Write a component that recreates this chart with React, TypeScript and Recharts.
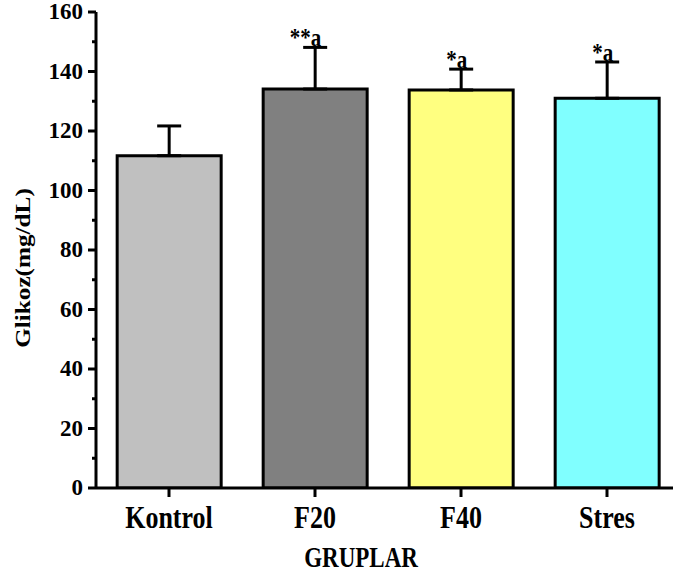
import { BarChart, Bar, XAxis, YAxis, Cell, ErrorBar, LabelList, Label } from 'recharts'

const groups = ['Kontrol', 'F20', 'F40', 'Stres']
const glucose = [111.7, 134.1, 133.8, 131.0]
const stdErr = [10.0, 14.0, 7.0, 12.2]
const marks = ['', '**a', '*a', '*a']
const barColors = ['#c0c0c0', '#808080', '#ffff80', '#80ffff']
const yTicks = [0, 10, 20, 30, 40, 50, 60, 70, 80, 90, 100, 110, 120, 130, 140, 150, 160]

const FONT = '"Liberation Serif", "Times New Roman", serif'

const data = groups.map((name, i) => ({
  name,
  value: glucose[i],
  err: [0, stdErr[i]],
  sig: marks[i],
}))

const XTick = (props: any) => {
  const { x, y, payload } = props
  return (
    <g>
      <line x1={x} x2={x} y1={y} y2={y + 9} stroke="#000" strokeWidth={3} />
      <text
        transform={`translate(${x},${y + 40}) scale(1,1.2)`}
        textAnchor="middle"
        fontFamily={FONT}
        fontWeight="bold"
        fontSize={26}
        fill="#000"
      >
        {payload.value}
      </text>
    </g>
  )
}

const YTick = (props: any) => {
  const { x, y, payload } = props
  const major = payload.value % 20 === 0
  return (
    <g>
      <line x1={x - (major ? 8 : 4)} x2={x} y1={y} y2={y} stroke="#000" strokeWidth={3} />
      {major && (
        <text x={x - 13} y={y} dy="0.32em" textAnchor="end" fontFamily={FONT} fontWeight="bold" fontSize={23} fill="#000">
          {payload.value}
        </text>
      )}
    </g>
  )
}

const SigLabel = (props: any) => {
  const vb = props.viewBox && typeof props.viewBox.x === 'number' ? props.viewBox : props
  const { x, y, width, height } = vb
  const { index, value } = props
  if (!value) return null
  const top = y - (stdErr[index] * Math.abs(height)) / glucose[index]
  return (
    <text
      transform={`translate(${x + width / 2 + 6},${top - 1}) scale(1,1.2)`}
      textAnchor="end"
      fontFamily={FONT}
      fontWeight="bold"
      fontSize={21}
      fill="#000"
    >
      {value}
    </text>
  )
}

export default function App() {
  return (
    <div style={{ position: 'absolute', left: 0, top: 0, width: 673, height: 580, overflow: 'hidden', background: '#fff' }}>
      <BarChart width={700} height={580} data={data} margin={{ top: 12, right: 20, bottom: 0, left: 0 }} barCategoryGap="14.5%">
        <XAxis
          dataKey="name"
          height={92}
          tickLine={false}
          tickSize={0}
          tickMargin={0}
          axisLine={{ stroke: '#000', strokeWidth: 3 }}
          tick={<XTick />}
        >
          <Label
            content={(p: any) => (
              <text
                transform={`translate(${p.viewBox.x + 265},${p.viewBox.y + 79}) scale(1,1.25)`}
                textAnchor="middle"
                fontFamily={FONT}
                fontWeight="bold"
                fontSize={23}
                fill="#000"
              >
                GRUPLAR
              </text>
            )}
          />
        </XAxis>
        <YAxis
          width={96}
          domain={[0, 160]}
          ticks={yTicks}
          interval={0}
          allowDataOverflow
          tickLine={false}
          tickSize={0}
          tickMargin={0}
          axisLine={{ stroke: '#000', strokeWidth: 3 }}
          tick={<YTick />}
        >
          <Label
            content={(p: any) => (
              <text
                transform={`translate(${p.viewBox.x + 30},${p.viewBox.y + p.viewBox.height / 2 + 18}) scale(1,1.2) rotate(-90)`}
                textAnchor="middle"
                fontFamily={FONT}
                fontWeight="bold"
                fontSize={21}
                fill="#000"
              >
                Glikoz(mg/dL)
              </text>
            )}
          />
        </YAxis>
        <Bar dataKey="value" stroke="#000" strokeWidth={3} isAnimationActive={false}>
          {data.map((d, i) => (
            <Cell key={d.name} fill={barColors[i]} />
          ))}
          <ErrorBar dataKey="err" direction="y" width={12} stroke="#000" strokeWidth={3} isAnimationActive={false} />
          <LabelList dataKey="sig" content={<SigLabel />} />
        </Bar>
      </BarChart>
    </div>
  )
}
